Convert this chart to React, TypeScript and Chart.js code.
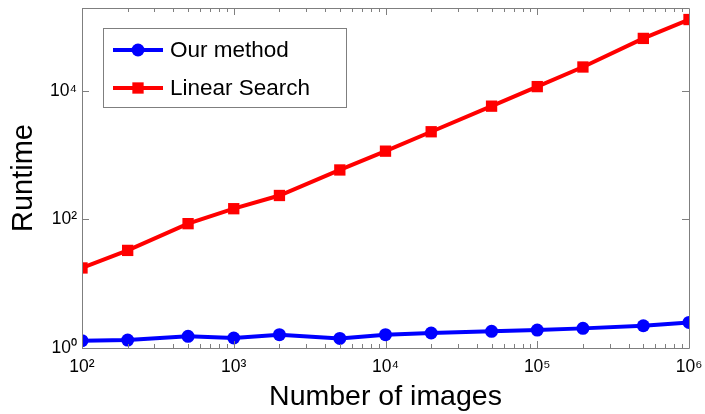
import React, { useEffect, useRef } from "react";
import { Chart, registerables } from "chart.js";

Chart.register(...registerables);

const numberOfImages = [100, 200, 500, 1000, 2000, 5000, 10000, 20000, 50000, 100000, 200000, 500000, 1000000];
const ourMethod = [1.3, 1.33, 1.52, 1.43, 1.61, 1.41, 1.61, 1.71, 1.82, 1.9, 2.02, 2.22, 2.5];
const linearSearch = [17.6, 33, 86, 147, 236, 589, 1155, 2315, 5790, 11670, 23560, 65600, 129000];
const seriesLabels = ["Our method", "Linear Search"];
const xMajorTicks = [100, 1000, 10000, 100000, 1000000];
const yMajorTicks = [1, 100, 10000];

const FONT = "'Liberation Sans', Arial, Helvetica, sans-serif";
const SUP: Record<string, string> = { "0": "⁰", "1": "¹", "2": "²", "3": "³", "4": "⁴", "5": "⁵", "6": "⁶", "7": "⁷", "8": "⁸", "9": "⁹" };

function powLabel(v: number): string {
  const e = Math.round(Math.log10(v));
  return "10" + String(e).split("").map((c) => SUP[c] || c).join("");
}
function isMajor(v: number, list: number[]) {
  return list.some((m) => Math.abs(m - v) / m < 1e-6);
}

const boxPlugin = {
  id: "matlabBox",
  afterDatasetsDraw(chart: any) {
    const { ctx, chartArea: a, scales } = chart;
    const xs = scales.x;
    const ys = scales.y;
    ctx.save();
    ctx.strokeStyle = "#7f7f7f";
    ctx.lineWidth = 1;
    ctx.beginPath();
    ctx.rect(a.left + 0.5, a.top + 0.5, a.right - a.left, a.bottom - a.top);
    ctx.stroke();
    ctx.beginPath();
    for (let e = 2; e < 6; e++) {
      for (let m = 1; m <= 9; m++) {
        const v = m * Math.pow(10, e);
        const px = Math.round(xs.getPixelForValue(v)) + 0.5;
        const len = m === 1 ? 7 : 4;
        ctx.moveTo(px, a.bottom);
        ctx.lineTo(px, a.bottom - len);
        ctx.moveTo(px, a.top);
        ctx.lineTo(px, a.top + len);
      }
    }
    for (const v of yMajorTicks) {
      const py = Math.round(ys.getPixelForValue(v)) + 0.5;
      ctx.moveTo(a.left, py);
      ctx.lineTo(a.left + 7, py);
      ctx.moveTo(a.right, py);
      ctx.lineTo(a.right - 7, py);
    }
    ctx.stroke();

    // legend
    const lx = 103, ly = 28, lw = 243, lh = 79;
    ctx.fillStyle = "#ffffff";
    ctx.fillRect(lx, ly, lw, lh);
    ctx.strokeStyle = "#7f7f7f";
    ctx.lineWidth = 1;
    ctx.strokeRect(lx + 0.5, ly + 0.5, lw, lh);
    const rows = [50, 88];
    chart.data.datasets.forEach((ds: any, i: number) => {
      const y = rows[i];
      ctx.strokeStyle = ds.borderColor;
      ctx.lineWidth = ds.borderWidth;
      ctx.beginPath();
      ctx.moveTo(113, y);
      ctx.lineTo(163, y);
      ctx.stroke();
      ctx.fillStyle = ds.backgroundColor;
      ctx.beginPath();
      if (ds.pointStyle === "rect") {
        const s = ds.pointRadius * Math.SQRT1_2;
        ctx.rect(138 - s, y - s, 2 * s, 2 * s);
      } else {
        ctx.arc(138, y, ds.pointRadius, 0, Math.PI * 2);
      }
      ctx.fill();
      ctx.fillStyle = "#000";
      ctx.font = `22.5px ${FONT}`;
      ctx.textBaseline = "middle";
      ctx.textAlign = "left";
      ctx.fillText(ds.label, 170, y + 1);
    });
    ctx.restore();
  },
};

export default function App() {
  const ref = useRef<HTMLCanvasElement | null>(null);
  useEffect(() => {
    document.body.style.margin = "0";
    const canvas = ref.current!;
    const chart = new Chart(canvas, {
      type: "line",
      data: {
        datasets: [
          {
            label: seriesLabels[0],
            data: numberOfImages.map((x, i) => ({ x, y: ourMethod[i] })),
            borderColor: "#0000ff",
            backgroundColor: "#0000ff",
            borderWidth: 4,
            pointStyle: "circle",
            pointRadius: 6.5,
            pointBorderWidth: 0,
          },
          {
            label: seriesLabels[1],
            data: numberOfImages.map((x, i) => ({ x, y: linearSearch[i] })),
            borderColor: "#ff0000",
            backgroundColor: "#ff0000",
            borderWidth: 4,
            pointStyle: "rect",
            pointRadius: 8,
            pointBorderWidth: 0,
          },
        ],
      },
      options: {
        responsive: false,
        animation: false,
        layout: { padding: { left: 0, top: 7, right: 16, bottom: 0 } },
        plugins: { legend: { display: false }, tooltip: { enabled: false } },
        scales: {
          x: {
            type: "logarithmic",
            min: 100,
            max: 1000000,
            grid: { display: false, drawTicks: false },
            border: { display: false },
            afterFit: (s: any) => {
              s.height = 66;
              s.paddingLeft = 0;
              s.paddingRight = 0;
            },
            ticks: {
              autoSkip: false,
              maxRotation: 0,
              padding: 9,
              color: "#000",
              font: { family: FONT, size: 17.5 },
              callback: (v: any) => (isMajor(Number(v), xMajorTicks) ? powLabel(Number(v)) : ""),
            },
            title: {
              display: true,
              text: "Number of images",
              color: "#000",
              font: { family: FONT, size: 28.5 },
              padding: { top: 0, bottom: 0 },
            },
          },
          y: {
            type: "logarithmic",
            min: 1,
            max: 195000,
            grid: { display: false, drawTicks: false },
            border: { display: false },
            afterFit: (s: any) => {
              s.width = 82;
              s.paddingTop = 0;
              s.paddingBottom = 0;
            },
            ticks: {
              autoSkip: false,
              padding: 5,
              color: "#000",
              font: { family: FONT, size: 17.5 },
              callback: (v: any) => (isMajor(Number(v), yMajorTicks) ? powLabel(Number(v)) : ""),
            },
            title: {
              display: true,
              text: "Runtime",
              color: "#000",
              font: { family: FONT, size: 29 },
              padding: { top: 7, bottom: 0 },
            },
          },
        },
      },
      plugins: [boxPlugin],
    } as any);
    return () => chart.destroy();
  }, []);
  return (
    <div style={{ position: "absolute", left: 0, top: 0, width: 705, height: 414, background: "#fff" }}>
      <canvas ref={ref} width={705} height={414} style={{ display: "block", width: 705, height: 414 }} />
    </div>
  );
}
